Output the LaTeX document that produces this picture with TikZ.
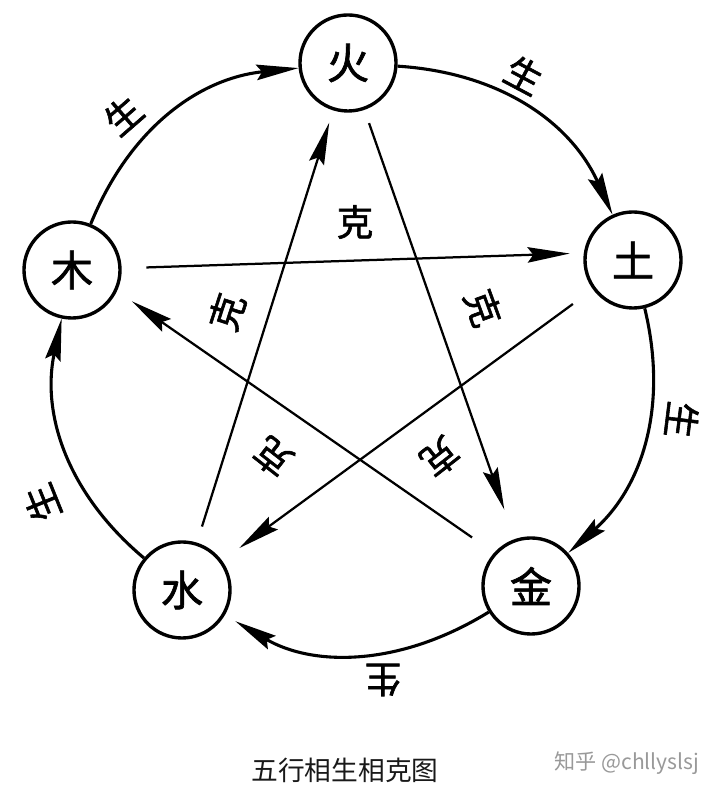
\documentclass[tikz,border=0pt]{standalone}
\usepackage{fontspec}
\newfontfamily\cjk{Noto Sans CJK SC}
\newfontfamily\cjkb[FakeBold=1.6]{Noto Sans CJK SC}
\usetikzlibrary{arrows.meta}
\begin{document}
\begin{tikzpicture}[x=0.025cm, y=0.025cm, >={Stealth[length=30pt, width=11pt, inset=4pt]},
  wx/.style={draw, circle, line width=2.4pt, minimum size=2.4cm, inner sep=0pt, font=\cjkb\fontsize{30}{30}\selectfont},
  sheng/.style={inner sep=0pt, font=\cjkb\fontsize{26}{26}\selectfont},
  ke/.style={inner sep=0pt, font=\cjkb\fontsize{26}{26}\selectfont},
  sarc/.style={->, line width=2.2pt},
  kline/.style={->, line width=1.6pt}]
\useasboundingbox (0,0) rectangle (720,794);
\node[wx] (huo) at (348,731) {火};
\node[wx] (tu) at (633,534) {土};
\node[wx] (jin) at (531,208) {金};
\node[wx] (shui) at (182,204) {水};
\node[wx] (mu) at (72,524) {木};
\draw[sarc] (mu) to[bend left=31] (huo);
\draw[sarc] (huo) to[bend left=31] (tu);
\draw[sarc] (tu) to[bend left=31] (jin);
\draw[sarc, shorten >=0.3cm] (jin) to[bend left=31] (shui);
\draw[sarc] (shui) to[bend left=31] (mu);
\node[sheng, rotate=41] (s1) at (123,679) {生};
\node[sheng, rotate=-28] (s2) at (524,719) {生};
\node[sheng, rotate=-97] (s3) at (682,374) {生};
\node[sheng, rotate=180] (s4) at (383,114) {生};
\node[sheng, rotate=112] (s5) at (42,291) {生};
\draw[kline, shorten <=0.35cm, shorten >=0.78cm] (huo) -- (jin);
\draw[kline, shorten <=0.62cm, shorten >=0.35cm] (mu.2) -- (tu.172);
\draw[kline, shorten <=0.62cm, shorten >=0.53cm] (tu) -- (shui);
\draw[kline, shorten <=0.42cm, shorten >=0.32cm] (shui) -- (huo);
\draw[kline, shorten <=0.67cm, shorten >=0.45cm] (jin.138) -- (mu.-25);
\node[ke] (k1) at (355,572) {克};
\node[ke, rotate=72] (k2) at (227,482) {克};
\node[ke, rotate=-70] (k3) at (483,486) {克};
\node[ke, rotate=142] (k4) at (273,337) {克};
\node[ke, rotate=-142] (k5) at (440,337) {克};
\node[text=black!90, font=\cjk\fontsize{19}{19}\selectfont] (title) at (345,24) {五行相生相克图};
\node[text=black!40, font=\cjk\fontsize{15}{15}\selectfont] (mark) at (627,31) {知乎 @chllyslsj};
\end{tikzpicture}
\end{document}
